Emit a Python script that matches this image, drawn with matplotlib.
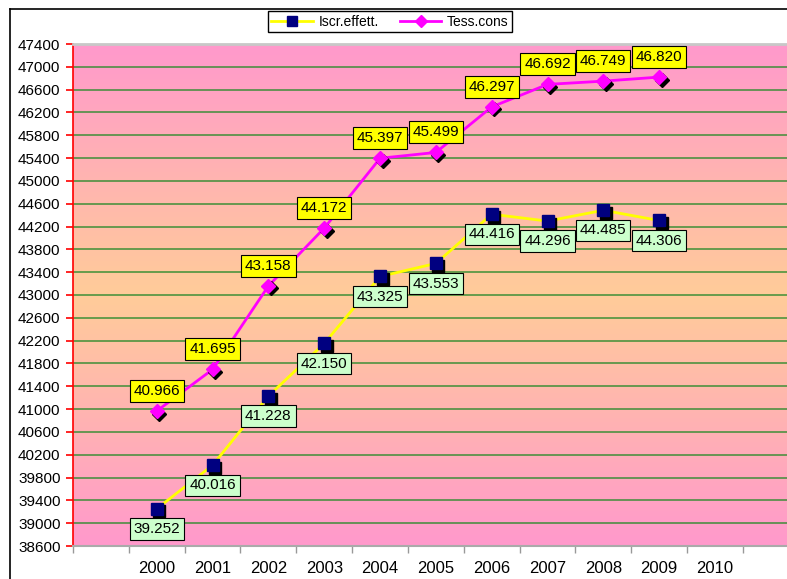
import numpy as np
import matplotlib
matplotlib.use("Agg")
import matplotlib.pyplot as plt
from matplotlib.colors import LinearSegmentedColormap
from matplotlib.lines import Line2D
import matplotlib.transforms as mtransforms

plt.rcParams['font.family'] = ['Liberation Sans', 'DejaVu Sans']

# dati
years = ['2000', '2001', '2002', '2003', '2004', '2005', '2006', '2007', '2008', '2009', '2010']
iscr_effett = [39252, 40016, 41228, 42150, 43325, 43553, 44416, 44296, 44485, 44306]
tess_cons = [40966, 41695, 43158, 44172, 45397, 45499, 46297, 46692, 46749, 46820]
iscr_labels = ['39.252', '40.016', '41.228', '42.150', '43.325', '43.553', '44.416', '44.296', '44.485', '44.306']
tess_labels = ['40.966', '41.695', '43.158', '44.172', '45.397', '45.499', '46.297', '46.692', '46.749', '46.820']

W, H = 787, 579
fig = plt.figure(figsize=(W / 100, H / 100), dpi=100)
ax = fig.add_axes([73 / W, (H - 546) / H, (787 - 73) / W, (546 - 44) / H])

ymin, ymax = 38600, 47400
xmin, xmax = -1.5, 11.29
ax.set_xlim(xmin, xmax)
ax.set_ylim(ymin, ymax)

# sfondo sfumato rosa -> pesca -> rosa
cmap = LinearSegmentedColormap.from_list('bg', ['#FF99CC', '#FFCC99', '#FF99CC'])
grad = np.linspace(0, 1, 256).reshape(-1, 1)
ax.imshow(grad, cmap=cmap, extent=[xmin, xmax, ymin, ymax], aspect='auto',
          origin='upper', zorder=0, interpolation='bicubic')

yt = np.arange(ymin, ymax + 1, 400)
ax.set_yticks(yt)
ax.set_yticklabels([str(v) for v in yt], fontsize=11)
for v in yt[1:-1]:
    ax.axhline(v, color='#2E8B2E', lw=1.2, alpha=0.85, zorder=1)

# asse x: tacche tra le categorie, etichette al centro
ax.set_xticks(np.arange(-1.5, 11.0, 1.0))
ax.set_xticklabels([])
ax.set_xticks(np.arange(len(years)), minor=True)
ax.set_xticklabels(years, minor=True, fontsize=12)
ax.tick_params(axis='x', which='major', direction='out', length=5, color='#999999', width=1)
ax.tick_params(axis='x', which='minor', length=0, pad=11)
ax.tick_params(axis='y', direction='out', length=5, color='red', width=1.2, pad=4)

ax.spines['left'].set_color('red')
ax.spines['left'].set_linewidth(1.2)
ax.spines['top'].set_color('#C8C8C8')
ax.spines['top'].set_linewidth(2)
ax.spines['bottom'].set_color('#AAAAAA')
ax.spines['bottom'].set_linewidth(1.5)
ax.spines['right'].set_visible(False)

x = np.arange(len(iscr_effett))
shadow = mtransforms.offset_copy(ax.transData, fig=fig, x=1.8, y=-1.8, units='points')

ax.plot(x, iscr_effett, color='#FFFF00', lw=2, zorder=3)
ax.plot(x, tess_cons, color='#FF00FF', lw=2, zorder=3)
ax.plot(x, iscr_effett, 's', color='black', ms=9, transform=shadow, zorder=4)
ax.plot(x, tess_cons, 'D', color='black', ms=7, transform=shadow, zorder=4)
ax.plot(x, iscr_effett, 's', color='#000080', mec='#000080', ms=9, zorder=5)
ax.plot(x, tess_cons, 'D', color='#FF00FF', mec='#FF00FF', ms=7, zorder=5)

for xi, v, lab in zip(x, iscr_effett, iscr_labels):
    ax.annotate(lab, (xi, v), xytext=(0, -14.5), textcoords='offset points',
                ha='center', va='center', fontsize=11, zorder=6,
                bbox=dict(boxstyle='square,pad=0.25', fc='#CCFFCC', ec='black', lw=0.8))
for xi, v, lab in zip(x, tess_cons, tess_labels):
    ax.annotate(lab, (xi, v), xytext=(0, 14.5), textcoords='offset points',
                ha='center', va='center', fontsize=11, zorder=6,
                bbox=dict(boxstyle='square,pad=0.25', fc='#FFFF00', ec='black', lw=0.8))

# legenda
handles = [Line2D([], [], color='#FFFF00', lw=2, marker='s', mfc='#000080', mec='#000080', ms=7),
           Line2D([], [], color='#FF00FF', lw=2, marker='D', mfc='#FF00FF', mec='#FF00FF', ms=6)]
fig.legend(handles, ['Iscr.effett.', 'Tess.cons'], loc='center',
           bbox_to_anchor=(390 / W, (H - 21.5) / H), ncol=2, fontsize=10,
           frameon=True, fancybox=False, edgecolor='black', framealpha=1,
           borderpad=0.25, handlelength=3.0, columnspacing=1.5, handletextpad=0.4)

# cornice esterna
fig.add_artist(Line2D([10 / W, 10 / W], [0, (H - 9) / H], color='black', lw=1.2, transform=fig.transFigure))
fig.add_artist(Line2D([10 / W, 1], [(H - 9) / H, (H - 9) / H], color='black', lw=1.2, transform=fig.transFigure))

fig.savefig('out.png', dpi=100)
